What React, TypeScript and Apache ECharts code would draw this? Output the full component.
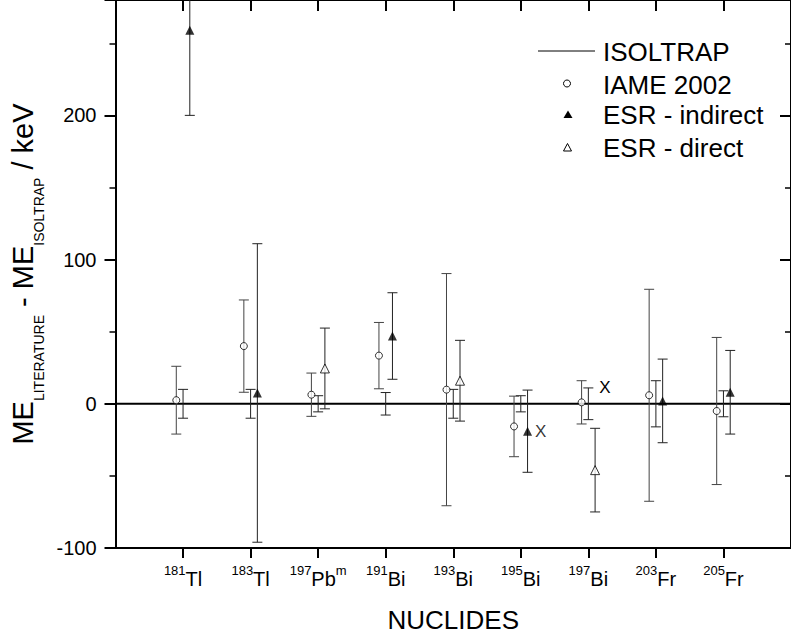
import React, { useEffect, useRef } from 'react';
import * as echarts from 'echarts';

// ---- data ----
const massNumbers = ['181', '183', '197', '191', '193', '195', '197', '203', '205'];
const elements = ['Tl', 'Tl', 'Pb', 'Bi', 'Bi', 'Bi', 'Bi', 'Fr', 'Fr'];
const isomerTags = ['', '', 'm', '', '', '', '', '', ''];

// ISOLTRAP: reference (0) with its uncertainty
const isoltrapErr = [10, 10, 5.6, 7.8, 10, 5.6, 11, 16, 9];
const isoltrapMarks = ['', '', '', '', '', '', 'X', '', ''];

// IAME 2002
const iameValues = [2.5, 40, 6.3, 33.4, 9.8, -15.7, 1, 5.9, -5];
const iameErr = [23.5, 32, 15, 23, 80.5, 21, 15, 73.5, 51];

// ESR - indirect (category index 1-based)
const esrIndirectCat = [1, 2, 4, 6, 8, 9];
const esrIndirectValues = [259, 7.5, 47, -19, 2, 8];
const esrIndirectErr = [59, 103.5, 30, 28.5, 29, 29];
const esrIndirectMarks = ['', '', '', 'X', '', ''];

// ESR - direct
const esrDirectCat = [3, 5, 7];
const esrDirectValues = [24.5, 16, -46];
const esrDirectErr = [28, 28, 29];

const yTicks = [-100, 0, 100, 200];

const FONT = '"Liberation Sans", Arial, Helvetica, sans-serif';
const OFFSET = 0.1;

function errorBarSeries(data: number[][], marks: string[], color: string) {
  return {
    type: 'custom',
    xAxisIndex: 0,
    yAxisIndex: 0,
    silent: true,
    z: 3,
    data,
    renderItem: (params: any, api: any) => {
      const x = api.value(0);
      const lo = api.value(1);
      const hi = api.value(2);
      const pTop = api.coord([x, hi]);
      const pBot = api.coord([x, lo]);
      const cs = params.coordSys;
      const yMin = cs.y;
      const yMax = cs.y + cs.height;
      const top = Math.max(pTop[1], yMin);
      const bot = Math.min(pBot[1], yMax);
      const half = 5;
      const st = { stroke: color, lineWidth: 1 };
      const children: any[] = [
        { type: 'line', shape: { x1: pTop[0], y1: top, x2: pTop[0], y2: bot }, style: st },
      ];
      if (pTop[1] >= yMin) {
        children.push({ type: 'line', shape: { x1: pTop[0] - half, y1: pTop[1], x2: pTop[0] + half, y2: pTop[1] }, style: st });
      }
      if (pBot[1] <= yMax) {
        children.push({ type: 'line', shape: { x1: pBot[0] - half, y1: pBot[1], x2: pBot[0] + half, y2: pBot[1] }, style: st });
      }
      const mark = marks[params.dataIndex];
      if (mark) {
        children.push({
          type: 'text',
          x: pTop[0] + 11,
          y: pTop[1],
          style: { text: mark, fill: '#000', fontSize: 17, fontFamily: FONT, align: 'left', verticalAlign: 'middle' },
        });
      }
      return { type: 'group', children };
    },
  };
}

export default function App() {
  const ref = useRef<HTMLDivElement>(null);

  useEffect(() => {
    if (!ref.current) return;
    const chart = echarts.init(ref.current, null, { renderer: 'svg' });

    const isoBars = isoltrapErr.map((e, i) => [i + 1, -e, e]);
    const iameBars = iameValues.map((v, i) => [i + 1 - OFFSET, v - iameErr[i], v + iameErr[i]]);
    const esrIndBars = esrIndirectValues.map((v, i) => [esrIndirectCat[i] + OFFSET, v - esrIndirectErr[i], v + esrIndirectErr[i]]);
    const esrDirBars = esrDirectValues.map((v, i) => [esrDirectCat[i] + OFFSET, v - esrDirectErr[i], v + esrDirectErr[i]]);

    const labelFor = (v: number) => {
      const i = Math.round(v) - 1;
      if (Math.abs(v - Math.round(v)) > 1e-6 || i < 0 || i >= massNumbers.length) return '';
      return `{sup|${massNumbers[i]}}{el|${elements[i]}}` + (isomerTags[i] ? `{sup|${isomerTags[i]}}` : '');
    };

    const option: any = {
      animation: false,
      backgroundColor: '#fff',
      textStyle: { fontFamily: FONT, color: '#000' },
      grid: { left: 114, right: -5, top: 0, bottom: 88, containLabel: false },
      xAxis: [
        {
          type: 'value',
          position: 'bottom',
          min: 0,
          max: 10,
          interval: 1,
          splitLine: { show: false },
          axisLine: { show: true, onZero: false, lineStyle: { color: '#000', width: 2 } },
          axisTick: { show: true, inside: false, length: 10, lineStyle: { color: '#000', width: 2 } },
          axisLabel: {
            show: true,
            margin: 16,
            formatter: labelFor,
            showMinLabel: false,
            showMaxLabel: false,
            rich: {
              el: { fontSize: 20, lineHeight: 30, fontFamily: FONT, color: '#000' },
              sup: { fontSize: 13, fontFamily: FONT, color: '#000', verticalAlign: 'top' },
            },
          },
          name: 'NUCLIDES',
          nameLocation: 'middle',
          nameGap: 59,
          nameTextStyle: { fontSize: 26, lineHeight: 26, fontFamily: FONT, color: '#000' },
        },
        {
          type: 'value',
          position: 'top',
          min: 0,
          max: 10,
          interval: 1,
          splitLine: { show: false },
          axisLine: { show: true, onZero: false, lineStyle: { color: '#000', width: 2 } },
          axisTick: { show: true, inside: true, length: 11, lineStyle: { color: '#000', width: 2 } },
          axisLabel: { show: false },
        },
      ],
      yAxis: [
        {
          type: 'value',
          position: 'left',
          min: -100,
          max: 280,
          interval: 100,
          splitLine: { show: false },
          axisLine: { show: true, onZero: false, lineStyle: { color: '#000', width: 2 } },
          axisTick: { show: true, inside: false, length: 11, lineStyle: { color: '#000', width: 2 } },
          minorTick: { show: true, splitNumber: 2, length: 6, lineStyle: { color: '#000', width: 1.5 } },
          axisLabel: {
            show: true,
            margin: 19,
            fontSize: 20,
            fontFamily: FONT,
            color: '#000',
            showMaxLabel: false,
            formatter: (v: number) => (yTicks.includes(v) ? String(v) : ''),
          },
          name: '{a|ME}{s|LITERATURE}{a| - ME}{s|ISOLTRAP}{a| / keV}',
          nameLocation: 'middle',
          nameRotate: 90,
          nameGap: 70,
          nameTextStyle: {
            rich: {
              a: { fontSize: 29, lineHeight: 46, fontFamily: FONT, color: '#000' },
              s: { fontSize: 14, fontFamily: FONT, color: '#000', verticalAlign: 'bottom' },
            },
          },
        },
        {
          type: 'value',
          position: 'right',
          min: -100,
          max: 280,
          interval: 100,
          splitLine: { show: false },
          axisLine: { show: true, onZero: false, lineStyle: { color: '#000', width: 2 } },
          axisTick: { show: true, inside: true, length: 11, lineStyle: { color: '#000', width: 2 } },
          minorTick: { show: true, splitNumber: 2, length: 6, lineStyle: { color: '#000', width: 1.5 } },
          axisLabel: { show: false },
        },
      ],
      series: [
        {
          name: 'ISOLTRAP',
          type: 'line',
          xAxisIndex: 0,
          yAxisIndex: 0,
          data: [[0, 0], [10, 0]],
          symbol: 'none',
          silent: true,
          z: 2,
          lineStyle: { color: '#000', width: 2 },
        },
        errorBarSeries(isoBars, isoltrapMarks, '#222'),
        errorBarSeries(iameBars, [], '#444'),
        errorBarSeries(esrIndBars, [], '#222'),
        errorBarSeries(esrDirBars, [], '#222'),
        {
          name: 'IAME 2002',
          type: 'scatter',
          xAxisIndex: 0,
          yAxisIndex: 0,
          symbol: 'circle',
          symbolSize: 7,
          silent: true,
          z: 5,
          itemStyle: { color: '#fff', borderColor: '#000', borderWidth: 1 },
          data: iameValues.map((v, i) => [i + 1 - OFFSET, v]),
        },
        {
          name: 'ESR - indirect',
          type: 'scatter',
          xAxisIndex: 0,
          yAxisIndex: 0,
          symbol: 'triangle',
          symbolSize: 9,
          silent: true,
          z: 5,
          itemStyle: { color: '#000' },
          data: esrIndirectValues.map((v, i) => ({
            value: [esrIndirectCat[i] + OFFSET, v],
            label: esrIndirectMarks[i]
              ? { show: true, formatter: esrIndirectMarks[i], position: 'right', distance: 3, fontSize: 17, fontFamily: FONT, color: '#000' }
              : { show: false },
          })),
        },
        {
          name: 'ESR - direct',
          type: 'scatter',
          xAxisIndex: 0,
          yAxisIndex: 0,
          symbol: 'triangle',
          symbolSize: 9,
          silent: true,
          z: 5,
          itemStyle: { color: '#fff', borderColor: '#000', borderWidth: 1 },
          data: esrDirectValues.map((v, i) => [esrDirectCat[i] + OFFSET, v]),
        },
      ],
      graphic: [
        { type: 'line', shape: { x1: 538, y1: 51, x2: 595, y2: 51 }, style: { stroke: '#000', lineWidth: 1 } },
        { type: 'text', x: 603, y: 52, style: { text: 'ISOLTRAP', fontSize: 26, fontFamily: FONT, fill: '#000', verticalAlign: 'middle' } },
        { type: 'circle', shape: { cx: 567, cy: 83.5, r: 3.5 }, style: { fill: '#fff', stroke: '#000', lineWidth: 1 } },
        { type: 'text', x: 603, y: 84.5, style: { text: 'IAME 2002', fontSize: 26, fontFamily: FONT, fill: '#000', verticalAlign: 'middle' } },
        { type: 'polygon', shape: { points: [[568, 110.5], [572.5, 118], [563.5, 118]] }, style: { fill: '#000' } },
        { type: 'text', x: 603, y: 115, style: { text: 'ESR - indirect', fontSize: 26, fontFamily: FONT, fill: '#000', verticalAlign: 'middle' } },
        { type: 'polygon', shape: { points: [[567.5, 143.5], [571.5, 151], [563.5, 151]] }, style: { fill: '#fff', stroke: '#000', lineWidth: 1 } },
        { type: 'text', x: 603, y: 147.5, style: { text: 'ESR - direct', fontSize: 26, fontFamily: FONT, fill: '#000', verticalAlign: 'middle' } },
      ],
    };

    chart.setOption(option);
    return () => chart.dispose();
  }, []);

  return (
    <div
      ref={ref}
      style={{ position: 'absolute', left: 0, top: 0, width: 791, height: 638, background: '#fff' }}
    />
  );
}
